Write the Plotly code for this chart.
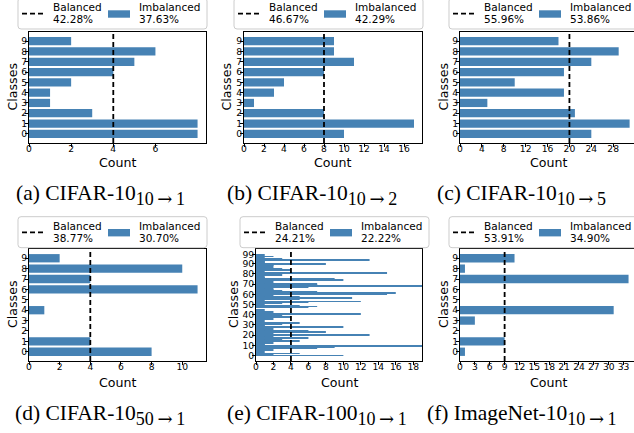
import plotly.graph_objects as go

# ---------------- data ----------------
classes10 = list(range(10))
classes100 = list(range(100))

counts_a = [8, 8, 3, 1, 1, 2, 4, 5, 6, 2]          # CIFAR-10 10->1
counts_b = [10, 17, 8, 1, 3, 4, 8, 11, 9, 9]       # CIFAR-10 10->2
counts_c = [24, 31, 21, 5, 19, 10, 19, 24, 29, 18] # CIFAR-10 10->5
counts_d = [8, 4, 0, 0, 1, 0, 11, 4, 10, 2]        # CIFAR-10 50->1
counts_e = [10, 2, 5, 1, 1, 2, 0, 7, 9, 19,
            1, 1, 2, 1, 5, 3, 1, 6, 2, 1,
            13, 2, 0, 8, 6, 1, 2, 0, 10, 1,
            1, 3, 5, 1, 0, 1, 2, 1, 4, 0,
            3, 12, 1, 2, 1, 1, 0, 6, 7, 5,
            1, 3, 6, 12, 1, 5, 11, 5, 1, 2,
            15, 16, 7, 3, 2, 2, 1, 6, 19, 7,
            7, 1, 2, 0, 10, 9, 1, 1, 0, 3,
            1, 15, 1, 0, 4, 3, 2, 1, 2, 2,
            8, 1, 1, 1, 13, 3, 1, 2, 1, 1]          # CIFAR-100 10->1
counts_f = [1, 9, 0, 3, 31, 0, 0, 34, 1, 11]       # ImageNet-10 10->1

balanced_counts = [4, 8, 20, 4, 4, 9]
balanced_acc = ["42.28%", "46.67%", "55.96%", "38.77%", "24.21%", "53.91%"]
imbalanced_acc = ["37.63%", "42.29%", "53.86%", "30.70%", "22.22%", "34.90%"]
caption_main = ["(a) CIFAR-10", "(b) CIFAR-10", "(c) CIFAR-10",
                "(d) CIFAR-10", "(e) CIFAR-100", "(f) ImageNet-10"]
caption_sub = ["10→1", "10→2", "10→5", "50→1", "10→1", "10→1"]

x_tick_vals = [[0, 2, 4, 6],
               [0, 2, 4, 6, 8, 10, 12, 14, 16],
               [0, 4, 8, 12, 16, 20, 24, 28],
               [0, 2, 4, 6, 8, 10],
               [0, 2, 4, 6, 8, 10, 12, 14, 16, 18],
               [0, 3, 6, 9, 12, 15, 18, 21, 24, 27, 30, 33]]
y_ticks_10 = list(range(10))
y_ticks_100 = [0, 10, 20, 30, 40, 50, 60, 70, 80, 90, 99]

panels = [
    (classes10, counts_a, y_ticks_10),
    (classes10, counts_b, y_ticks_10),
    (classes10, counts_c, y_ticks_10),
    (classes10, counts_d, y_ticks_10),
    (classes100, counts_e, y_ticks_100),
    (classes10, counts_f, y_ticks_10),
]

# ---------------- layout geometry (pixels) ----------------
W, H = 634, 433
BAR = "#4682B4"
plot_x = [(29, 206), (244, 422), (460, 634), (29, 206), (256, 422), (460, 634)]
plot_y = [(32, 143), (32, 143), (32, 143), (249, 361), (249, 361), (249, 361)]
x_max = [8.4, 17.8, 31.8, 11.55, 19.0, 35.1]
legend_pos = [(18, -2), (234, -2), (449, -2), (18, 216.7), (240, 216.7), (449, 216.7)]
ylabel_x = [12, 226, 443, 12, 233, 443]
xlabel_y = [162, 162, 162, 382, 382, 382]
caption_pos = [(16, 181), (227, 181), (437, 181), (15, 401), (227, 401), (427, 401)]


def px(x):
    return x / W


def py(y):
    return 1 - y / H


def rounded_rect(x0, y0, x1, y1, r):
    pts = [
        ("M", (x0 + r, y0)), ("L", (x1 - r, y0)), ("Q", (x1, y0), (x1, y0 + r)),
        ("L", (x1, y1 - r)), ("Q", (x1, y1), (x1 - r, y1)), ("L", (x0 + r, y1)),
        ("Q", (x0, y1), (x0, y1 - r)), ("L", (x0, y0 + r)), ("Q", (x0, y0), (x0 + r, y0)),
    ]
    s = ""
    for item in pts:
        cmd = item[0]
        coords = " ".join(f"{px(a):.5f},{py(b):.5f}" for a, b in item[1:])
        s += f"{cmd} {coords} "
    return s + "Z"


fig = go.Figure()
layout = dict(width=W, height=H, margin=dict(l=0, r=0, t=0, b=0, autoexpand=False),
              paper_bgcolor="white", plot_bgcolor="white", showlegend=False,
              font=dict(family="DejaVu Sans", color="black"))
shapes = []
annotations = []
txt_font = dict(family="DejaVu Sans", size=10.5, color="black")
lab_font = dict(family="DejaVu Sans", size=12.6, color="black")

for i, (cls, cnt, yt) in enumerate(panels):
    n = i + 1
    sfx = "" if n == 1 else str(n)
    xa, ya = "x" + sfx, "y" + sfx

    fig.add_trace(go.Bar(x=cnt, y=cls, orientation="h", width=0.8,
                         marker=dict(color=BAR, line=dict(width=0)),
                         xaxis=xa, yaxis=ya, name="Imbalanced"))
    # balanced reference line
    shapes.append(dict(type="line", xref=xa, yref=ya + " domain",
                       x0=balanced_counts[i], x1=balanced_counts[i], y0=0, y1=1,
                       line=dict(color="black", width=1.8, dash="5px,3px")))

    ncls = len(cls)
    pad = 0.05 * (ncls - 1 + 0.8)
    x0, x1 = plot_x[i]
    y0, y1 = plot_y[i]
    layout["xaxis" + sfx] = dict(
        domain=[px(x0), px(x1)], anchor=ya, range=[0, x_max[i]],
        tickmode="array", tickvals=x_tick_vals[i],
        showline=True, mirror=True, linecolor="black", linewidth=1,
        ticks="outside", ticklen=3, tickwidth=0.8, tickcolor="black",
        ticklabelstandoff=-6,
        tickfont=dict(size=9.2, family="DejaVu Sans"), showgrid=False, zeroline=False)
    layout["yaxis" + sfx] = dict(
        domain=[py(y1), py(y0)], anchor=xa,
        range=[-0.4 - pad, ncls - 1 + 0.4 + pad],
        tickmode="array", tickvals=yt,
        showline=True, mirror=True, linecolor="black", linewidth=1,
        ticks="outside", ticklen=3, tickwidth=0.8, tickcolor="black",
        ticklabelstandoff=-4,
        tickfont=dict(size=9.2, family="DejaVu Sans"), showgrid=False, zeroline=False)

    # axis titles
    cx_title = (x0 + x0 + 177) / 2 if i in (2, 5) else (x0 + x1) / 2
    annotations.append(dict(text="Count", xref="paper", yref="paper",
                            x=px(cx_title), y=py(xlabel_y[i]),
                            xanchor="center", yanchor="middle",
                            showarrow=False, font=lab_font, borderpad=0))
    annotations.append(dict(text="Classes", xref="paper", yref="paper",
                            x=px(ylabel_x[i]), y=py((y0 + y1) / 2), textangle=-90,
                            xanchor="center", yanchor="middle",
                            showarrow=False, font=lab_font, borderpad=0))

    # legend (drawn as a framed box with handles and labels)
    lx, ly = legend_pos[i]
    shapes.append(dict(type="path", xref="paper", yref="paper",
                       path=rounded_rect(lx, ly, lx + 189, ly + 31, 3),
                       fillcolor="white", line=dict(color="#cccccc", width=1)))
    shapes.append(dict(type="line", xref="paper", yref="paper",
                       x0=px(lx + 4), x1=px(lx + 25), y0=py(ly + 15.7), y1=py(ly + 15.7),
                       line=dict(color="black", width=1.8, dash="5px,3px")))
    shapes.append(dict(type="rect", xref="paper", yref="paper",
                       x0=px(lx + 90), x1=px(lx + 112), y0=py(ly + 12.3), y1=py(ly + 19.7),
                       fillcolor=BAR, line=dict(width=0)))
    for tx, lines in ((lx + 35, ["Balanced", balanced_acc[i]]),
                      (lx + 121, ["Imbalanced", imbalanced_acc[i]])):
        for k, t in enumerate(lines):
            annotations.append(dict(text=t, xref="paper", yref="paper",
                                    x=px(tx), y=py(ly + 9 + 12.2 * k),
                                    xanchor="left", yanchor="middle", showarrow=False,
                                    font=txt_font, borderpad=0, borderwidth=0))

    cx, cy = caption_pos[i]
    sub = caption_sub[i].replace(
        "→", "<span style='font-family:DejaVu Serif'>\u2009→\u2009</span>")
    annotations.append(dict(text=caption_main[i] + "<sub><span style='font-size:18px'>"
                            + sub + "</span></sub>",
                            xref="paper", yref="paper", x=px(cx), y=py(cy),
                            xanchor="left", yanchor="top", showarrow=False,
                            borderpad=0, borderwidth=0,
                            font=dict(family="Liberation Serif", size=21.5, color="black")))

layout["shapes"] = shapes
layout["annotations"] = annotations
fig.update_layout(**layout)
fig.write_html("out.html", config={"displayModeBar": False},
               post_script="document.body.style.margin='0px';document.body.style.overflow='hidden';")
